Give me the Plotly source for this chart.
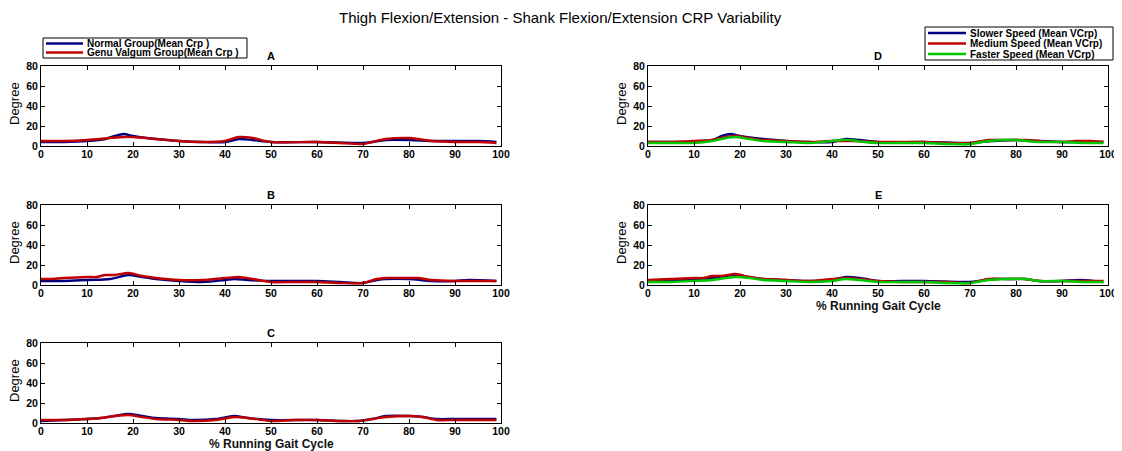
import plotly.graph_objects as go

# page body has an 8px margin, so the figure is drawn 8px in from the corner
OFF = 8
W, H = 1122 - OFF, 451 - OFF

# ---------------- data ----------------
# Panel A
a_normal_x = [0, 5, 10, 14, 16, 18, 20, 25, 30, 35, 40, 43, 46, 50, 60, 70, 72, 75, 80, 85, 90, 95, 99]
a_normal_y = [4, 4, 5, 7, 10, 12, 10, 7, 5, 4, 4, 7, 6, 4, 4, 3, 4, 6, 6, 5, 5, 5, 4]
a_genu_x = [0, 5, 10, 15, 18, 20, 25, 30, 35, 40, 43, 46, 50, 60, 65, 70, 72, 75, 80, 82, 85, 90, 95, 99]
a_genu_y = [5, 5, 6, 8, 9, 9, 7, 5, 4, 5, 9, 8, 4, 4, 3, 2, 4, 7, 8, 7, 5, 4, 4, 3]

# Panel B
b_normal_x = [0, 5, 10, 15, 19, 22, 25, 30, 35, 40, 42, 45, 50, 55, 60, 65, 70, 73, 75, 80, 85, 90, 93, 99]
b_normal_y = [4, 4, 5, 6, 10, 8, 6, 4, 3, 5, 6, 5, 4, 4, 4, 3, 2, 5, 6, 6, 4, 4, 5, 4]
b_genu_x = [0, 2, 5, 10, 12, 14, 16, 19, 22, 25, 30, 35, 40, 43, 46, 50, 55, 60, 65, 70, 73, 75, 80, 82, 85, 90, 95, 99]
b_genu_y = [6, 6, 7, 8, 8, 10, 10, 12, 9, 7, 5, 5, 7, 8, 6, 3, 3, 3, 2, 2, 6, 7, 7, 7, 5, 4, 4, 4]

# Panel C
c_normal_x = [0, 5, 10, 13, 16, 19, 22, 25, 30, 33, 38, 42, 45, 50, 60, 65, 69, 72, 75, 80, 83, 86, 90, 95, 99]
c_normal_y = [2, 3, 4, 5, 7, 9, 7, 5, 4, 3, 4, 7, 5, 3, 3, 2, 2, 4, 7, 7, 6, 4, 4, 4, 4]
c_genu_x = [0, 5, 10, 13, 16, 19, 22, 25, 30, 33, 38, 42, 45, 50, 55, 60, 65, 69, 72, 75, 80, 83, 86, 90, 95, 99]
c_genu_y = [3, 3, 4, 5, 7, 8, 6, 4, 3, 2, 3, 6, 5, 2, 3, 3, 2, 2, 4, 6, 7, 6, 3, 3, 3, 3]

# Panel D
d_slow_x = [0, 5, 10, 14, 16, 18, 20, 25, 30, 35, 40, 43, 46, 50, 60, 70, 72, 75, 80, 85, 90, 95, 99]
d_slow_y = [4, 4, 4, 6, 10, 12, 10, 7, 5, 4, 4, 7, 6, 4, 4, 3, 4, 5, 6, 5, 4, 4, 4]
d_med_x = [0, 5, 10, 14, 17, 19, 22, 25, 30, 35, 40, 42, 45, 50, 55, 60, 65, 70, 74, 78, 82, 85, 90, 93, 96, 99]
d_med_y = [4, 4, 5, 6, 9, 10, 8, 6, 5, 4, 5, 5, 5, 4, 4, 4, 3, 3, 6, 6, 6, 5, 4, 5, 5, 4]
d_fast_x = [0, 5, 10, 14, 17, 19, 22, 25, 30, 35, 40, 42, 44, 47, 50, 60, 65, 70, 74, 77, 80, 85, 90, 95, 99]
d_fast_y = [3, 3, 3, 5, 8, 9, 7, 5, 4, 3, 5, 6, 6, 4, 3, 3, 2, 2, 5, 6, 6, 4, 4, 3, 3]

# Panel E
e_slow_x = [0, 5, 10, 14, 17, 19, 22, 25, 30, 35, 40, 43, 46, 50, 55, 60, 70, 72, 75, 80, 82, 85, 90, 94, 99]
e_slow_y = [4, 4, 5, 7, 9, 10, 8, 6, 5, 4, 5, 8, 7, 4, 4, 4, 3, 4, 6, 6, 6, 4, 4, 5, 3]
e_med_x = [0, 5, 10, 12, 14, 16, 19, 22, 25, 30, 35, 40, 43, 46, 50, 55, 60, 65, 70, 74, 78, 82, 85, 90, 95, 99]
e_med_y = [5, 6, 7, 7, 9, 9, 11, 8, 6, 5, 4, 6, 7, 6, 4, 3, 3, 3, 2, 6, 6, 6, 4, 4, 4, 4]
e_fast_x = [0, 5, 10, 14, 17, 19, 22, 25, 30, 35, 40, 43, 46, 50, 60, 65, 70, 74, 78, 82, 85, 90, 95, 99]
e_fast_y = [3, 3, 4, 5, 7, 8, 7, 5, 4, 3, 4, 6, 5, 3, 3, 2, 2, 5, 6, 6, 4, 4, 3, 3]

panel_titles = ["A", "B", "C", "D", "E"]
group_names = ["Normal Group(Mean Crp )", "Genu Valgum Group(Mean Crp )"]
speed_names = ["Slower Speed (Mean VCrp)", "Medium Speed (Mean VCrp)", "Faster Speed (Mean VCrp)"]
x_ticks = [0, 10, 20, 30, 40, 50, 60, 70, 80, 90, 100]
y_ticks = [0, 20, 40, 60, 80]
main_title = "Thigh Flexion/Extension - Shank Flexion/Extension CRP Variability"
x_title = "% Running Gait Cycle"
y_title = "Degree"

BLUE = "#000080"
RED = "#C00000"
GREEN = "#00C800"

# ---------------- layout geometry (screen pixels) ----------------
def px_x(p):
    return (p - OFF) / W

def px_y(p):
    return 1 - (p - OFF) / H

panels = {
    # name: (left, right, top, bottom) in screen px
    "A": (41, 501, 66, 146),
    "B": (41, 501, 205, 285),
    "C": (41, 501, 343, 423),
    "D": (648, 1108, 66, 146),
    "E": (648, 1108, 205, 285),
}

series = {
    "A": [(a_normal_x, a_normal_y, BLUE), (a_genu_x, a_genu_y, RED)],
    "B": [(b_normal_x, b_normal_y, BLUE), (b_genu_x, b_genu_y, RED)],
    "C": [(c_normal_x, c_normal_y, BLUE), (c_genu_x, c_genu_y, RED)],
    "D": [(d_slow_x, d_slow_y, BLUE), (d_med_x, d_med_y, RED), (d_fast_x, d_fast_y, GREEN)],
    "E": [(e_slow_x, e_slow_y, BLUE), (e_med_x, e_med_y, RED), (e_fast_x, e_fast_y, GREEN)],
}

fig = go.Figure()
layout = dict(
    width=W, height=H,
    margin=dict(l=0, r=0, t=0, b=0),
    paper_bgcolor="white", plot_bgcolor="white",
    showlegend=False,
    font=dict(family="Liberation Sans, Arial", color="black"),
)

tickfont = dict(family="Liberation Sans, Arial", size=10.5, color="black", weight="bold")
annotations = []
shapes = []

for i, name in enumerate(panel_titles):
    l, r, t, b = panels[name]
    idx = "" if i == 0 else str(i + 1)
    xa = "x" + idx
    ya = "y" + idx
    for xs, ys, col in series[name]:
        fig.add_trace(go.Scatter(
            x=xs, y=ys, mode="lines", xaxis=xa, yaxis=ya,
            line=dict(color=col, width=2.4, shape="spline", smoothing=0.8),
            hoverinfo="skip",
        ))
    common = dict(showline=True, linecolor="black", linewidth=1, mirror="ticks",
                  ticks="inside", ticklen=4, tickcolor="black", tickwidth=1,
                  showgrid=False, zeroline=False, tickfont=tickfont, automargin=False)
    layout["xaxis" + idx] = dict(domain=[px_x(l), px_x(r)], anchor=ya,
                                 range=[0, 100], tickvals=x_ticks,
                                 ticklabelstandoff=-2, **common)
    layout["yaxis" + idx] = dict(domain=[px_y(b), px_y(t)], anchor=xa,
                                 range=[0, 80], tickvals=y_ticks, **common)
    # panel title
    annotations.append(dict(text=name, x=px_x((l + r) / 2), y=px_y(t - 2),
                            xref="paper", yref="paper", xanchor="center", yanchor="bottom",
                            showarrow=False, font=dict(size=11, weight="bold", color="black")))
    # y-axis title
    annotations.append(dict(text=y_title, x=px_x(l - 27), y=px_y((t + b) / 2 - 2),
                            xref="paper", yref="paper", xanchor="center", yanchor="middle",
                            textangle=-90, showarrow=False,
                            font=dict(family="Liberation Sans Narrow, Liberation Sans, Arial",
                                      size=13, color="black")))

# x-axis titles under C and E
for name, ypx in (("C", 444), ("E", 306)):
    l, r, t, b = panels[name]
    annotations.append(dict(text=x_title, x=px_x((l + r) / 2), y=px_y(ypx),
                            xref="paper", yref="paper", xanchor="center", yanchor="middle",
                            showarrow=False, borderpad=0,
                            font=dict(size=12, weight="bold", color="#111")))

# main title
annotations.append(dict(text=main_title, x=px_x(560), y=1, xref="paper", yref="paper",
                        xanchor="center", yanchor="top", showarrow=False, borderpad=0,
                        font=dict(size=15, color="black")))

# legend boxes drawn as shapes + text
def legend_box(box, names, colors, line_x, text_x, rows_y, fsize):
    x0, y0, x1, y1 = box
    shapes.append(dict(type="rect", xref="paper", yref="paper",
                       x0=px_x(x0), x1=px_x(x1), y0=px_y(y1), y1=px_y(y0),
                       line=dict(color="black", width=1), fillcolor="white"))
    for nm, col, ry in zip(names, colors, rows_y):
        shapes.append(dict(type="line", xref="paper", yref="paper",
                           x0=px_x(line_x[0]), x1=px_x(line_x[1]), y0=px_y(ry), y1=px_y(ry),
                           line=dict(color=col, width=2.4)))
        annotations.append(dict(text=nm, x=px_x(text_x), y=px_y(ry), xref="paper", yref="paper",
                                xanchor="left", yanchor="middle", showarrow=False,
                                font=dict(size=fsize, weight="bold", color="black")))

legend_box((43, 38, 247, 58), group_names, [BLUE, RED], (46, 83), 85, [43.5, 52.5], 10)
legend_box((925, 27, 1113, 60), speed_names, [BLUE, RED, GREEN], (928, 966), 968, [33, 43.5, 54], 10)

layout["annotations"] = annotations
layout["shapes"] = shapes
fig.update_layout(**layout)
fig.write_html("out.html")
